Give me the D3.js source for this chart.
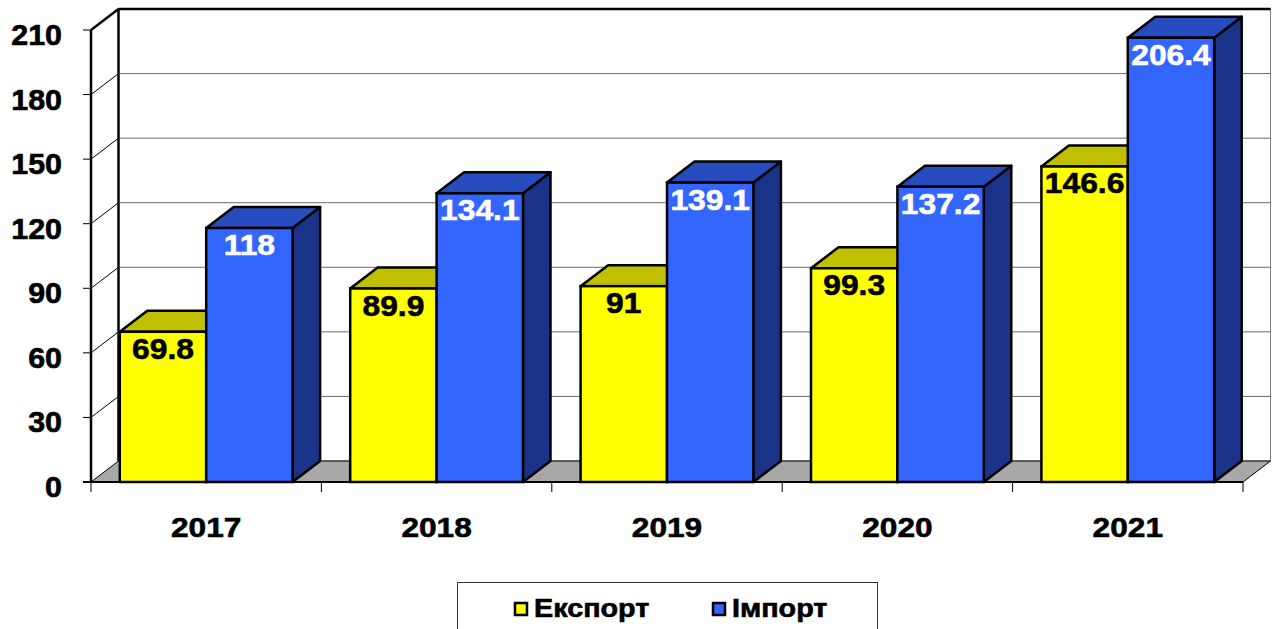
<!DOCTYPE html>
<html><head><meta charset="utf-8">
<script src="https://cdn.jsdelivr.net/npm/d3@7"></script>
<style>html,body{margin:0;padding:0;background:#fff;}svg{display:block;font-family:Arial,"Liberation Sans",sans-serif;font-weight:bold;} text{stroke-width:0.6px;}</style>
</head><body>
<svg id="c" width="1272" height="629"></svg>
<script>
const years = ["2017","2018","2019","2020","2021"];
const exportValues = [69.8, 89.9, 91, 99.3, 146.6];
const importValues = [118, 134.1, 139.1, 137.2, 206.4];
const yTicks = [0,30,60,90,120,150,180,210];
const seriesNames = ["Експорт","Імпорт"];

const svg = d3.select("#c");
const DX = 27.5, DY = -21;
const y = d3.scaleLinear().domain([0,210]).range([482,30]);
const x0 = d3.scaleBand().domain(years).range([91,1243]).padding(0);
const x1 = d3.scaleBand().domain(seriesNames).range([0,x0.bandwidth()]).paddingInner(0).paddingOuter(1/3);
const L = 91, R = 1243, B = y(0), T = y(210);

function stretched(sel, sx){
  return sel.attr("transform", function(){
    const t = d3.select(this); const X = +t.attr("data-x"), Y = +t.attr("data-y");
    return `translate(${X},${Y}) scale(${sx},1)`;
  });
}

// back wall
svg.append("rect").attr("x",L+DX).attr("y",T+DY).attr("width",R-L).attr("height",B-T).attr("fill","#fff").attr("stroke","#808080").attr("stroke-width",1);
svg.append("g").selectAll("line").data(yTicks.slice(1,-1)).join("line")
  .attr("x1",L+DX).attr("x2",R+DX).attr("y1",d=>y(d)+DY).attr("y2",d=>y(d)+DY)
  .attr("stroke","#6a6a6a").attr("stroke-width",1);
svg.append("g").selectAll("line").data(yTicks.slice(1)).join("line")
  .attr("x1",L).attr("x2",L+DX).attr("y1",d=>y(d)).attr("y2",d=>y(d)+DY)
  .attr("stroke","#000").attr("stroke-width",1);
svg.append("line").attr("x1",L+DX).attr("x2",R+DX).attr("y1",T+DY).attr("y2",T+DY).attr("stroke","#000").attr("stroke-width",2.5);
svg.append("line").attr("x1",L+DX).attr("x2",L+DX).attr("y1",T+DY).attr("y2",B+DY).attr("stroke","#000").attr("stroke-width",2.5);
svg.append("line").attr("x1",L).attr("x2",L+DX).attr("y1",T).attr("y2",T+DY).attr("stroke","#000").attr("stroke-width",2.5);
// floor
svg.append("path").attr("d",`M${L},${B}L${R},${B}L${R+DX},${B+DY}L${L+DX},${B+DY}Z`)
  .attr("fill","#a8a8a8").attr("stroke","#000").attr("stroke-width",1);
// y axis
svg.append("line").attr("x1",L).attr("x2",L).attr("y1",T).attr("y2",B).attr("stroke","#000").attr("stroke-width",2.5);
svg.append("g").selectAll("line").data(yTicks).join("line")
  .attr("x1",L-8).attr("x2",L).attr("y1",d=>y(d)).attr("y2",d=>y(d)).attr("stroke","#000").attr("stroke-width",1);
stretched(svg.append("g").selectAll("text").data(yTicks).join("text")
  .attr("data-x",62).attr("data-y",d=>y(d)+15).attr("text-anchor","end").attr("font-size",29).attr("fill","#000").attr("stroke","#000").text(d=>d), 1.05);
// x axis
svg.append("line").attr("x1",L-8).attr("x2",R).attr("y1",B).attr("y2",B).attr("stroke","#000").attr("stroke-width",2);
const xt = years.map(d=>x0(d)).concat([R]);
svg.append("g").selectAll("line").data(xt).join("line")
  .attr("x1",d=>d).attr("x2",d=>d).attr("y1",B).attr("y2",B+10).attr("stroke","#000").attr("stroke-width",1);
stretched(svg.append("g").selectAll("text").data(years).join("text")
  .attr("data-x",d=>x0(d)+x0.bandwidth()/2).attr("data-y",537).attr("text-anchor","middle").attr("font-size",28).attr("fill","#000").attr("stroke","#000").text(d=>d), 1.13);

// bars
const styles = {
  "Експорт": {front:"#ffff00", top:"#c0c000", side:"#808000", label:"#000"},
  "Імпорт": {front:"#3366ff", top:"#264cbf", side:"#1a3388", label:"#fff"}
};
const bars = [];
years.forEach((yr,i)=>{
  bars.push({yr, s:"Експорт", v:exportValues[i]});
  bars.push({yr, s:"Імпорт", v:importValues[i]});
});
const g = svg.append("g");
bars.forEach(b=>{
  const xa = x0(b.yr)+x1(b.s), xb = xa + x1.bandwidth(), yt = y(b.v), st = styles[b.s];
  const sw = 2.5;
  g.append("path").attr("d",`M${xb},${B}L${xb+DX},${B+DY}L${xb+DX},${yt+DY}L${xb},${yt}Z`)
    .attr("fill",st.side).attr("stroke","#000").attr("stroke-width",sw).attr("stroke-linejoin","round");
  g.append("path").attr("d",`M${xa},${yt}L${xa+DX},${yt+DY}L${xb+DX},${yt+DY}L${xb},${yt}Z`)
    .attr("fill",st.top).attr("stroke","#000").attr("stroke-width",sw).attr("stroke-linejoin","round");
  g.append("rect").attr("x",xa).attr("y",yt).attr("width",xb-xa).attr("height",B-yt)
    .attr("fill",st.front).attr("stroke","#000").attr("stroke-width",sw);
});
// labels
stretched(svg.append("g").selectAll("text").data(bars).join("text")
  .attr("data-x",d=>x0(d.yr)+x1(d.s)+x1.bandwidth()/2).attr("data-y",d=>y(d.v)+27)
  .attr("text-anchor","middle").attr("font-size",30).attr("fill",d=>styles[d.s].label).attr("stroke",d=>styles[d.s].label).text(d=>d.v), 1.06);

// legend
const lg = svg.append("g");
lg.append("rect").attr("x",457.5).attr("y",582.5).attr("width",420).attr("height",80).attr("fill","#fff").attr("stroke","#333").attr("stroke-width",1);
const lx = [515, 713];
seriesNames.forEach((s,i)=>{
  lg.append("rect").attr("x",lx[i]).attr("y",603).attr("width",12).attr("height",12).attr("fill",styles[s].front).attr("stroke","#000").attr("stroke-width",2.5);
  lg.append("text").attr("transform",`translate(${lx[i]+19},617) scale(1.15,1)`).attr("font-size",25).attr("fill","#000").attr("stroke","#000").text(s);
});
</script>
</body></html>
